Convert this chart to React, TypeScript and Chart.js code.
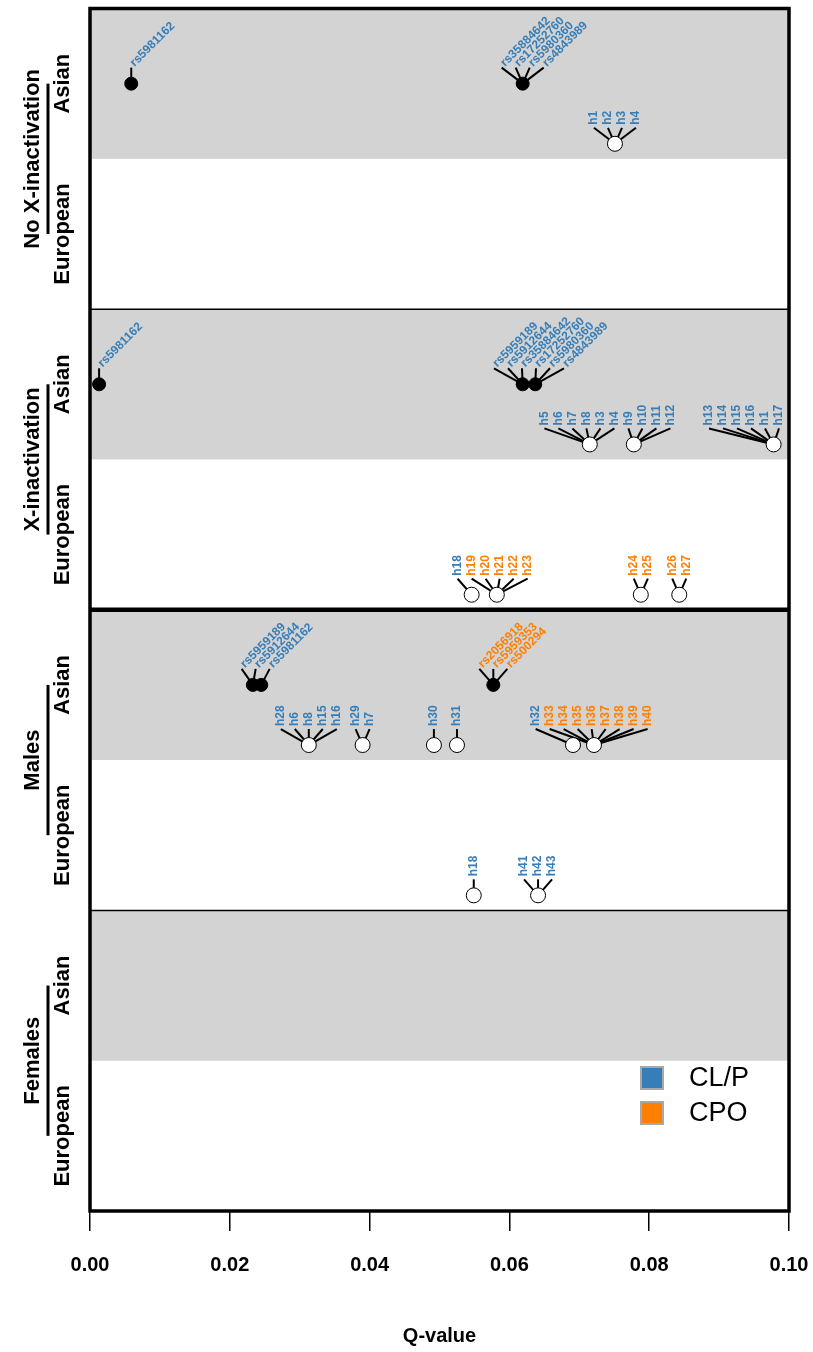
import React, { useEffect, useRef } from "react";
import { Chart, registerables } from "chart.js";
Chart.register(...registerables);

// ---------- data ----------
const groups = ["No X-inactivation", "X-inactivation", "Males", "Females"];
const populations = ["Asian", "European"];
const traits = ["CL/P", "CPO"];
const traitColors = ["#377EB8", "#FF7F00"];
const xTicks = [0, 0.02, 0.04, 0.06, 0.08, 0.1];

// single-SNP results (filled points)
const snpGroup = [0, 0, 1, 1, 1, 2, 2, 2];
const snpPop = [0, 0, 0, 0, 0, 0, 0, 0];
const snpQ = [0.0059, 0.0619, 0.0013, 0.0619, 0.0637, 0.0233, 0.0245, 0.0577];
const snpTrait = [0, 0, 0, 0, 0, 0, 0, 1];
const snpLabels = [
  ["rs5981162"],
  ["rs35884642", "rs17252760", "rs5980360", "rs4843989"],
  ["rs5981162"],
  ["rs5959189", "rs5912644", "rs35884642"],
  ["rs17252760", "rs5980360", "rs4843989"],
  ["rs5959189", "rs5912644"],
  ["rs5981162"],
  ["rs2056918", "rs5959353", "rs500294"],
];

// haplotype results (open points)
const hapGroup = [0, 1, 1, 1, 1, 1, 1, 1, 2, 2, 2, 2, 2, 2, 2, 2];
const hapPop = [0, 0, 0, 0, 1, 1, 1, 1, 0, 0, 0, 0, 0, 0, 1, 1];
const hapQ = [0.0751, 0.0715, 0.0778, 0.0978, 0.0546, 0.0582, 0.0788, 0.0843, 0.0313, 0.039, 0.0492, 0.0525, 0.0691, 0.0721, 0.0549, 0.0641];
const hapTrait = [0, 0, 0, 0, 0, 1, 1, 1, 0, 0, 0, 0, 0, 1, 0, 0];
const hapLabels = [
  ["h1", "h2", "h3", "h4"],
  ["h5", "h6", "h7", "h8", "h3", "h4"],
  ["h9", "h10", "h11", "h12"],
  ["h13", "h14", "h15", "h16", "h1", "h17"],
  ["h18"],
  ["h19", "h20", "h21", "h22", "h23"],
  ["h24", "h25"],
  ["h26", "h27"],
  ["h28", "h6", "h8", "h15", "h16"],
  ["h29", "h7"],
  ["h30"],
  ["h31"],
  ["h32"],
  ["h33", "h34", "h35", "h36", "h37", "h38", "h39", "h40"],
  ["h18"],
  ["h41", "h42", "h43"],
];

// ---------- helpers ----------
const FONT = "'Liberation Sans', Arial, Helvetica, sans-serif";
const bandBottom = (g: number, p: number) => 7 - 2 * g - p;
const snpY = (i: number) => bandBottom(snpGroup[i], snpPop[i]) + 0.5;
const hapY = (i: number) => bandBottom(hapGroup[i], hapPop[i]) + 0.1;

type Item = { ideal: number; pos: number; label: string; color: string; px: number; py: number; k: number };

function layoutRow(items: Item[], spacing: number, lo: number, hi: number) {
  items.sort((a, b) => a.px - b.px || a.k - b.k);
  let clusters = items.map((it) => ({ members: [it], center: it.ideal }));
  const clamp = (c: { members: Item[]; center: number }) => {
    const half = ((c.members.length - 1) / 2) * spacing;
    if (c.center - half < lo) c.center = lo + half;
    if (c.center + half > hi) c.center = hi - half;
  };
  clusters.forEach(clamp);
  let changed = true;
  while (changed) {
    changed = false;
    for (let i = 0; i < clusters.length - 1; i++) {
      const a = clusters[i], b = clusters[i + 1];
      const aEnd = a.center + ((a.members.length - 1) / 2) * spacing;
      const bStart = b.center - ((b.members.length - 1) / 2) * spacing;
      if (bStart - aEnd < spacing - 0.01) {
        const members = a.members.concat(b.members);
        const c = { members, center: members.reduce((s, m) => s + m.ideal, 0) / members.length };
        clamp(c);
        clusters.splice(i, 2, c);
        changed = true;
        break;
      }
    }
  }
  for (const c of clusters) {
    const n = c.members.length;
    c.members.forEach((m, k) => (m.pos = c.center + (k - (n - 1) / 2) * spacing));
  }
}

function buildRows(chart: any) {
  const xs = chart.scales.x, ys = chart.scales.y;
  const { left, right } = chart.chartArea;
  const rows: { items: Item[]; kind: string }[] = [];
  const rowMap: Record<string, Item[]> = {};
  const add = (key: string, kind: string, it: Item) => {
    if (!rowMap[key]) {
      rowMap[key] = [];
      rows.push({ items: rowMap[key], kind });
    }
    rowMap[key].push(it);
  };
  const spacing = 14;
  snpQ.forEach((q, i) => {
    const px = xs.getPixelForValue(q), py = ys.getPixelForValue(snpY(i));
    const n = snpLabels[i].length;
    snpLabels[i].forEach((lab, k) =>
      add(`s${snpGroup[i]}-${snpPop[i]}`, "snp", { ideal: px + (k - (n - 1) / 2) * spacing, pos: 0, label: lab, color: traitColors[snpTrait[i]], px, py, k })
    );
  });
  hapQ.forEach((q, i) => {
    const px = xs.getPixelForValue(q), py = ys.getPixelForValue(hapY(i));
    const n = hapLabels[i].length;
    hapLabels[i].forEach((lab, k) =>
      add(`h${hapGroup[i]}-${hapPop[i]}`, "hap", { ideal: px + (k - (n - 1) / 2) * spacing, pos: 0, label: lab, color: traitColors[hapTrait[i]], px, py, k })
    );
  });
  rows.forEach((r) => layoutRow(r.items, spacing, left + 6, right - 10));
  return rows;
}

const annotPlugin = {
  id: "annot",
  beforeDatasetsDraw(chart: any) {
    const ctx = chart.ctx;
    const { left, right } = chart.chartArea;
    const ys = chart.scales.y;
    ctx.save();
    // grey Asian bands
    ctx.fillStyle = "#D3D3D3";
    groups.forEach((_, g) => {
      const b = bandBottom(g, 0);
      const y1 = ys.getPixelForValue(b + 1), y2 = ys.getPixelForValue(b);
      ctx.fillRect(left, y1, right - left, y2 - y1);
    });
    // connector lines
    const rows = buildRows(chart);
    (chart as any)._labelRows = rows;
    ctx.strokeStyle = "#000";
    ctx.lineWidth = 2;
    rows.forEach((r) =>
      r.items.forEach((it) => {
        ctx.beginPath();
        ctx.moveTo(it.pos, it.py - 16);
        ctx.lineTo(it.px, it.py);
        ctx.stroke();
      })
    );
    ctx.restore();
  },
  afterDatasetsDraw(chart: any) {
    const ctx = chart.ctx;
    const { left, right, top, bottom } = chart.chartArea;
    const ys = chart.scales.y;
    const rows = (chart as any)._labelRows || [];
    ctx.save();
    // point labels
    ctx.font = `bold 12px ${FONT}`;
    ctx.textAlign = "left";
    ctx.textBaseline = "middle";
    rows.forEach((r: any) =>
      r.items.forEach((it: Item) => {
        ctx.save();
        ctx.fillStyle = it.color;
        ctx.translate(it.pos + (r.kind === "snp" ? 1 : 0), it.py - 19);
        ctx.rotate(r.kind === "snp" ? -Math.PI / 4 : -Math.PI / 2);
        ctx.fillText(it.label, 0, 0);
        ctx.restore();
      })
    );
    // panel separators
    ctx.strokeStyle = "#000";
    ctx.lineWidth = 1.5;
    [6, 2].forEach((v) => {
      const y = ys.getPixelForValue(v);
      ctx.beginPath();
      ctx.moveTo(left, y);
      ctx.lineTo(right, y);
      ctx.stroke();
    });
    ctx.lineWidth = 4.5;
    const ym = ys.getPixelForValue(4);
    ctx.beginPath();
    ctx.moveTo(left, ym);
    ctx.lineTo(right, ym);
    ctx.stroke();
    ctx.lineWidth = 3.5;
    ctx.strokeRect(left, top, right - left, bottom - top);

    // left labels
    ctx.fillStyle = "#000";
    ctx.textAlign = "center";
    ctx.textBaseline = "middle";
    groups.forEach((name, g) => {
      const yc = ys.getPixelForValue(7 - 2 * g);
      const ya = ys.getPixelForValue(7.5 - 2 * g);
      const ye = ys.getPixelForValue(6.5 - 2 * g);
      ctx.font = `bold 22px ${FONT}`;
      const txt = (s: string, x: number, y: number) => {
        ctx.save();
        ctx.translate(x, y);
        ctx.rotate(-Math.PI / 2);
        ctx.fillText(s, 0, 0);
        ctx.restore();
      };
      txt(name, 33, yc);
      txt(populations[0], 63, ya);
      txt(populations[1], 63, ye);
      ctx.lineWidth = 3;
      ctx.beginPath();
      ctx.moveTo(48, ya);
      ctx.lineTo(48, ye);
      ctx.stroke();
    });

    // legend
    ctx.font = `27px ${FONT}`;
    ctx.textAlign = "left";
    traits.forEach((t, i) => {
      const cy = 1078 + i * 35;
      ctx.fillStyle = traitColors[i];
      ctx.fillRect(641, cy - 11, 22, 22);
      ctx.strokeStyle = "#A8A8A8";
      ctx.lineWidth = 2;
      ctx.strokeRect(641, cy - 11, 22, 22);
      ctx.fillStyle = "#000";
      ctx.fillText(t, 689, cy + 1);
    });
    ctx.restore();
  },
};

export default function App() {
  const ref = useRef<HTMLCanvasElement | null>(null);
  useEffect(() => {
    if (!ref.current) return;
    const chart = new Chart(ref.current, {
      type: "scatter",
      data: {
        datasets: [
          {
            label: "SNP",
            data: snpQ.map((q, i) => ({ x: q, y: snpY(i) })),
            pointRadius: 6.5,
            pointBackgroundColor: "#000",
            pointBorderColor: "#000",
            pointBorderWidth: 1,
          },
          {
            label: "Haplotype",
            data: hapQ.map((q, i) => ({ x: q, y: hapY(i) })),
            pointRadius: 7.5,
            pointBackgroundColor: "#fff",
            pointBorderColor: "#000",
            pointBorderWidth: 1,
          },
        ],
      },
      options: {
        animation: false,
        responsive: false,
        maintainAspectRatio: false,
        layout: { padding: { left: 90, right: 24, top: 7, bottom: 4 } },
        plugins: { legend: { display: false }, tooltip: { enabled: false } },
        scales: {
          x: {
            type: "linear",
            min: xTicks[0],
            max: xTicks[xTicks.length - 1],
            afterBuildTicks: (axis: any) => {
              axis.ticks = xTicks.map((v) => ({ value: v }));
            },
            afterFit: (axis: any) => {
              axis.paddingLeft = 0;
              axis.paddingRight = 0;
            },
            ticks: {
              callback: (v: any) => Number(v).toFixed(2),
              font: { family: FONT, size: 20, weight: "bold" },
              color: "#000",
              padding: 22,
              maxRotation: 0,
            },
            grid: { drawOnChartArea: false, drawTicks: true, tickLength: 20, color: "#000", lineWidth: 1.5 },
            border: { display: false },
            title: {
              display: true,
              text: "Q-value",
              font: { family: FONT, size: 20, weight: "bold" },
              color: "#000",
              padding: { top: 25, bottom: 0 },
            },
          },
          y: { type: "linear", min: 0, max: 8, display: false },
        },
      },
      plugins: [annotPlugin],
    } as any);
    return () => chart.destroy();
  }, []);
  return (
    <div style={{ position: "absolute", left: 0, top: 0, width: 813, height: 1352, background: "#fff" }}>
      <canvas ref={ref} width={813} height={1352} style={{ display: "block", width: 813, height: 1352 }} />
    </div>
  );
}
